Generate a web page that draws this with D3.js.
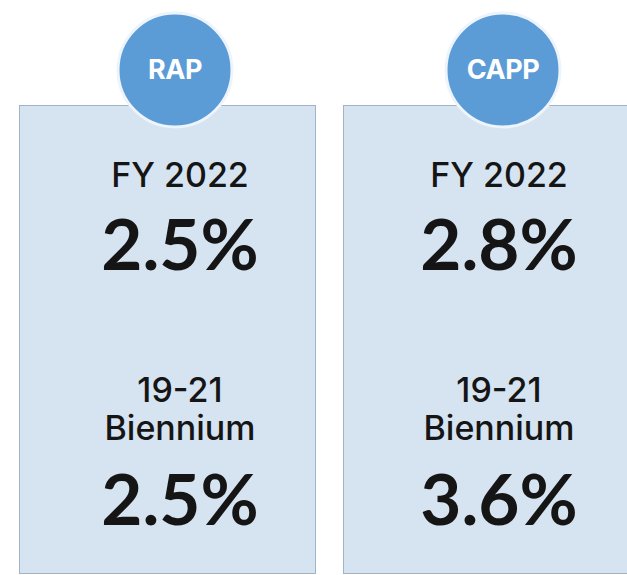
<!DOCTYPE html>
<html>
<head>
<meta charset="utf-8">
<script src="https://cdn.jsdelivr.net/npm/d3@7"></script>
<style>
  body { margin: 0; background: #fff; }
  svg { display: block; }
  text { font-family: Inter, "Liberation Sans", sans-serif; fill: #151515; }
  text.big { font-family: Lato, Inter, sans-serif; }
</style>
</head>
<body>
<script>
// data
var programs = ["RAP", "CAPP"];
var fy2022 = [2.5, 2.8];
var biennium = [2.5, 3.6];
var periodLabels = ["FY 2022", "19-21", "Biennium"];

var width = 627, height = 575;

var svg = d3.select("body").append("svg")
  .attr("width", width)
  .attr("height", height);

// panels placed with a band scale
var x = d3.scaleBand()
  .domain(programs)
  .range([19, 639])
  .paddingInner(28 / 324);

var fmt = function(v) { return d3.format(".1f")(v) + "%"; };

var rows = programs.map(function(p, i) {
  return { name: p, fy: fy2022[i], bi: biennium[i] };
});

var g = svg.selectAll("g.panel")
  .data(rows)
  .enter()
  .append("g")
  .attr("class", "panel")
  .attr("transform", function(d) { return "translate(" + x(d.name) + ",0)"; });

g.append("rect")
  .attr("x", 0.5)
  .attr("y", 105.5)
  .attr("width", x.bandwidth())
  .attr("height", 468)
  .attr("fill", "#d6e3f1")
  .attr("stroke", "#a3b3c6")
  .attr("stroke-width", 1);

var cx = function(d, i) { return x.bandwidth() / 2 + (i === 0 ? 8 : 12); };

// badge circle
g.append("circle")
  .attr("cx", cx)
  .attr("cy", 70)
  .attr("r", 57)
  .attr("fill", "#5b9bd6")
  .attr("stroke", "#eef4fb")
  .attr("stroke-width", 3);

g.append("text")
  .attr("x", cx)
  .attr("y", 79)
  .attr("text-anchor", "middle")
  .attr("font-size", 27)
  .attr("font-weight", 700)
  .attr("letter-spacing", -0.5)
  .style("fill", "#fff")
  .text(function(d) { return d.name; });

var tx = function(d, i) { return x.bandwidth() / 2 + (i === 0 ? 13 : 8); };

g.append("text")
  .attr("x", tx)
  .attr("y", 187)
  .attr("text-anchor", "middle")
  .attr("font-size", 34)
  .attr("font-weight", 500)
  .text(periodLabels[0]);

g.append("text")
  .attr("class", "big")
  .attr("x", tx)
  .attr("y", 270)
  .attr("text-anchor", "middle")
  .attr("font-size", 71)
  .attr("font-weight", 700)
  .text(function(d) { return fmt(d.fy); });

g.append("text")
  .attr("x", tx)
  .attr("y", 402)
  .attr("text-anchor", "middle")
  .attr("font-size", 34)
  .attr("font-weight", 500)
  .text(periodLabels[1]);

g.append("text")
  .attr("x", tx)
  .attr("y", 440)
  .attr("text-anchor", "middle")
  .attr("font-size", 34)
  .attr("font-weight", 500)
  .text(periodLabels[2]);

g.append("text")
  .attr("class", "big")
  .attr("x", tx)
  .attr("y", 525)
  .attr("text-anchor", "middle")
  .attr("font-size", 71)
  .attr("font-weight", 700)
  .text(function(d) { return fmt(d.bi); });
</script>
</body>
</html>
